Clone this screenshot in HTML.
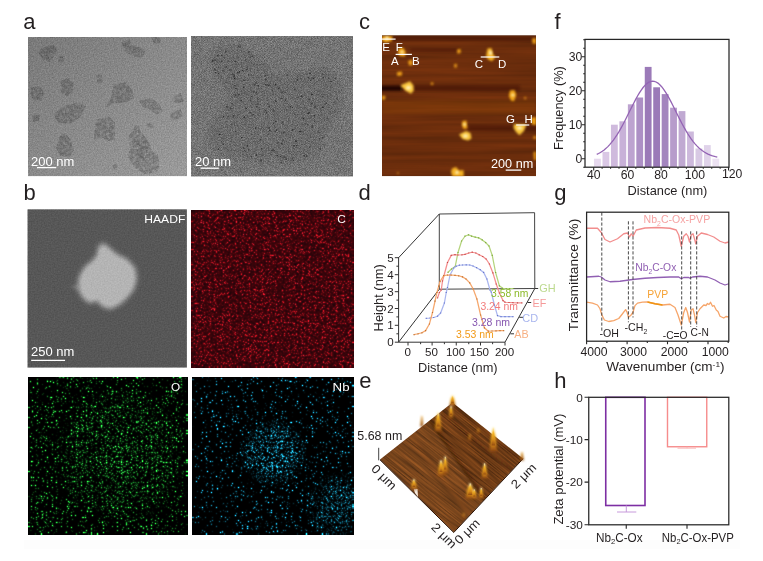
<!DOCTYPE html>
<html><head><meta charset="utf-8"><title>figure</title><style>html,body{margin:0;padding:0;background:#fff;overflow:hidden}svg{display:block}</style></head><body>
<svg width="763" height="561" viewBox="0 0 763 561" font-family="Liberation Sans, sans-serif">
<defs>
<filter id="nzA" x="0" y="0" width="100%" height="100%" color-interpolation-filters="sRGB">
<feTurbulence type="fractalNoise" baseFrequency="0.75" numOctaves="2" seed="4" result="t"/>
<feColorMatrix in="t" type="matrix" values="1 0 0 0 0 1 0 0 0 0 1 0 0 0 0 0 0 0 0 1" result="g"/>
<feComposite in="SourceGraphic" in2="g" operator="arithmetic" k1="0" k2="1" k3="0.2" k4="-0.10"/>
</filter>
<filter id="nzB" x="0" y="0" width="100%" height="100%" color-interpolation-filters="sRGB">
<feTurbulence type="fractalNoise" baseFrequency="1.3" numOctaves="1" seed="11" result="t"/>
<feColorMatrix in="t" type="matrix" values="1 0 0 0 0 1 0 0 0 0 1 0 0 0 0 0 0 0 0 1" result="g"/>
<feComposite in="SourceGraphic" in2="g" operator="arithmetic" k1="0" k2="1" k3="0.42" k4="-0.21"/>
</filter>
<filter id="nzH" x="0" y="0" width="100%" height="100%" color-interpolation-filters="sRGB">
<feTurbulence type="fractalNoise" baseFrequency="0.7" numOctaves="1" seed="2" result="t"/>
<feColorMatrix in="t" type="matrix" values="1 0 0 0 0 1 0 0 0 0 1 0 0 0 0 0 0 0 0 1" result="g"/>
<feComposite in="SourceGraphic" in2="g" operator="arithmetic" k1="0" k2="1" k3="0.12" k4="-0.06"/>
</filter>
<filter id="mapC" x="0" y="0" width="100%" height="100%" color-interpolation-filters="sRGB">
<feTurbulence type="fractalNoise" baseFrequency="0.85" numOctaves="2" seed="21" result="t"/><feColorMatrix in="t" type="matrix" values="7 0 0 0 -4.200  0.840 0 0 0 -0.504  1.400 0 0 0 -0.840  0 0 0 0 1" result="d0"/><feConvolveMatrix in="d0" order="3" kernelMatrix="1 3 1 3 12 3 1 3 1" preserveAlpha="true" result="d"/><feColorMatrix in="t" type="matrix" values="1.0 0 0 0 -0.280  0 0 0 0 0.015  0 0 0 0 0.04  0 0 0 0 1" result="b0"/><feConvolveMatrix in="b0" order="3" kernelMatrix="1 2 1 2 4 2 1 2 1" preserveAlpha="true" result="b"/><feComposite in="d" in2="b" operator="arithmetic" k1="0" k2="0.9" k3="1" k4="0"/>
</filter>
<filter id="mapO" x="0" y="0" width="100%" height="100%" color-interpolation-filters="sRGB">
<feTurbulence type="fractalNoise" baseFrequency="0.8" numOctaves="2" seed="33"/><feColorMatrix type="matrix" values="7 0 0 0 -4.620  7 0 0 0 -4.620  7 0 0 0 -4.620  0 0 0 0 1"/><feConvolveMatrix order="3" kernelMatrix="1 3 1 3 12 3 1 3 1" preserveAlpha="true"/><feColorMatrix type="matrix" values="0.360 0 0 0 0  0 2.000 0 0 0  0 0 0.600 0 0  0 0 0 0 1"/>
</filter>
<filter id="mapO2" x="0" y="0" width="100%" height="100%" color-interpolation-filters="sRGB">
<feTurbulence type="fractalNoise" baseFrequency="0.8" numOctaves="2" seed="35"/><feColorMatrix type="matrix" values="6 0 0 0 -3.720  6 0 0 0 -3.720  6 0 0 0 -3.720  0 0 0 0 1"/><feConvolveMatrix order="3" kernelMatrix="1 3 1 3 12 3 1 3 1" preserveAlpha="true"/><feColorMatrix type="matrix" values="0.342 0 0 0 0  0 1.900 0 0 0  0 0 0.570 0 0  0 0 0 0 1"/>
</filter>
<filter id="mapN" x="0" y="0" width="100%" height="100%" color-interpolation-filters="sRGB">
<feTurbulence type="fractalNoise" baseFrequency="0.8" numOctaves="2" seed="44"/><feColorMatrix type="matrix" values="8 0 0 0 -5.520  8 0 0 0 -5.520  8 0 0 0 -5.520  0 0 0 0 1"/><feConvolveMatrix order="3" kernelMatrix="1 3 1 3 12 3 1 3 1" preserveAlpha="true"/><feColorMatrix type="matrix" values="0.264 0 0 0 0  0 1.760 0 0 0  0 0 2.200 0 0  0 0 0 0 1"/>
</filter>
<filter id="mapN2" x="0" y="0" width="100%" height="100%" color-interpolation-filters="sRGB">
<feTurbulence type="fractalNoise" baseFrequency="0.8" numOctaves="2" seed="47"/><feColorMatrix type="matrix" values="6 0 0 0 -3.480  6 0 0 0 -3.480  6 0 0 0 -3.480  0 0 0 0 1"/><feConvolveMatrix order="3" kernelMatrix="1 3 1 3 12 3 1 3 1" preserveAlpha="true"/><feColorMatrix type="matrix" values="0.204 0 0 0 0  0 1.360 0 0 0  0 0 1.700 0 0  0 0 0 0 1"/>
</filter>
<filter id="afm" x="0" y="0" width="100%" height="100%" color-interpolation-filters="sRGB">
<feTurbulence type="fractalNoise" baseFrequency="0.006 0.16" numOctaves="3" seed="5" result="t"/>
<feColorMatrix in="t" type="matrix" values="1 0 0 0 0 1 0 0 0 0 1 0 0 0 0 0 0 0 0 1" result="g"/>
<feComposite in="SourceGraphic" in2="g" operator="arithmetic" k1="0.4" k2="0.8" k3="0" k4="0"/>
</filter>
<filter id="afm3" x="-20%" y="-20%" width="140%" height="140%" color-interpolation-filters="sRGB">
<feTurbulence type="fractalNoise" baseFrequency="0.02 0.7" numOctaves="2" seed="9" result="t"/>
<feColorMatrix in="t" type="matrix" values="1 0 0 0 0 1 0 0 0 0 1 0 0 0 0 0 0 0 0 1" result="g"/>
<feComposite in="SourceGraphic" in2="g" operator="arithmetic" k1="1.5" k2="0.25" k3="0" k4="0"/>
</filter>
<filter id="mot" x="0" y="0" width="100%" height="100%" color-interpolation-filters="sRGB"><feTurbulence type="fractalNoise" baseFrequency="0.3" numOctaves="2" seed="8" result="t"/><feColorMatrix in="t" type="matrix" values="0 0 0 0 0  0 0 0 0 0  0 0 0 0 0  2.2 0 0 0 -0.4" result="a"/><feComposite in="SourceGraphic" in2="a" operator="in"/></filter>
<filter id="b04"><feGaussianBlur stdDeviation="0.4"/></filter>
<filter id="b05"><feGaussianBlur stdDeviation="0.5"/></filter>
<filter id="b08"><feGaussianBlur stdDeviation="0.8"/></filter>
<filter id="b15"><feGaussianBlur stdDeviation="1.5"/></filter>
<filter id="b2" x="-30%" y="-30%" width="160%" height="160%"><feGaussianBlur stdDeviation="2"/></filter>
<filter id="b25" x="-30%" y="-30%" width="160%" height="160%"><feGaussianBlur stdDeviation="2.6"/></filter>
<filter id="b3" x="-30%" y="-30%" width="160%" height="160%"><feGaussianBlur stdDeviation="3"/></filter>
<filter id="b6" x="-30%" y="-30%" width="160%" height="160%"><feGaussianBlur stdDeviation="6"/></filter>
<linearGradient id="gA" x1="0" y1="0" x2="1" y2="1"><stop offset="0" stop-color="#797979"/><stop offset="1" stop-color="#9b9b9b"/></linearGradient>
<radialGradient id="mNb1" cx="273.5" cy="453" r="34" gradientUnits="userSpaceOnUse"><stop offset="0" stop-color="#fff"/><stop offset="0.6" stop-color="#fff" stop-opacity="0.9"/><stop offset="1" stop-color="#fff" stop-opacity="0"/></radialGradient>
<radialGradient id="mNb2" cx="340" cy="507" r="36" gradientUnits="userSpaceOnUse"><stop offset="0" stop-color="#fff" stop-opacity="0.75"/><stop offset="0.5" stop-color="#fff" stop-opacity="0.55"/><stop offset="1" stop-color="#fff" stop-opacity="0"/></radialGradient>
<radialGradient id="mO" cx="120" cy="455" r="70" gradientUnits="userSpaceOnUse"><stop offset="0" stop-color="#fff" stop-opacity="0.9"/><stop offset="0.5" stop-color="#fff" stop-opacity="0.6"/><stop offset="1" stop-color="#fff" stop-opacity="0"/></radialGradient>
<mask id="mkNb" maskUnits="userSpaceOnUse" x="192" y="377" width="162" height="158"><rect x="192" y="377" width="162" height="158" fill="url(#mNb1)"/><rect x="192" y="377" width="162" height="158" fill="url(#mNb2)"/></mask>
<mask id="mkO" maskUnits="userSpaceOnUse" x="28" y="377" width="160" height="158"><rect x="28" y="377" width="160" height="158" fill="url(#mO)"/></mask>
<linearGradient id="spk" x1="0" y1="0" x2="0" y2="1"><stop offset="0" stop-color="#fff6c8"/><stop offset="0.3" stop-color="#f5b523"/><stop offset="0.7" stop-color="#d08418"/><stop offset="1" stop-color="#8a4510"/></linearGradient>
<linearGradient id="spk2" x1="0" y1="0" x2="0" y2="1"><stop offset="0" stop-color="#e9a12a"/><stop offset="1" stop-color="#8f470f"/></linearGradient>
<clipPath id="cpC"><rect x="382" y="35.25" width="154" height="141"/></clipPath>
<clipPath id="cpE"><polygon points="380,459.5 452.5,402.5 523,458.5 453.75,532.25"/></clipPath>
<clipPath id="cpA1"><rect x="28" y="37" width="159" height="139.2"/></clipPath>
<clipPath id="cpA2"><rect x="191" y="36" width="162" height="140.5"/></clipPath>
</defs>
<rect width="763" height="561" fill="#fff"/>
<rect x="24" y="540" width="716" height="9" fill="#fdfdfd"/>

<text x="23.3" y="29.2" font-size="22" fill="#231f20" text-anchor="start">a</text>
<text x="23.6" y="200.2" font-size="22" fill="#231f20" text-anchor="start">b</text>
<text x="358.9" y="28.7" font-size="22" fill="#231f20" text-anchor="start">c</text>
<text x="358.6" y="200.2" font-size="22" fill="#231f20" text-anchor="start">d</text>
<text x="359.2" y="388.2" font-size="22" fill="#231f20" text-anchor="start">e</text>
<text x="554.4" y="28.8" font-size="22" fill="#231f20" text-anchor="start">f</text>
<text x="554.3" y="199.6" font-size="22" fill="#231f20" text-anchor="start">g</text>
<text x="554.2" y="387.8" font-size="22" fill="#231f20" text-anchor="start">h</text>
<g clip-path="url(#cpA1)">
<g filter="url(#nzA)"><rect x="28" y="37" width="159" height="139.2" fill="url(#gA)"/>
<g fill="#000" fill-opacity="0.2" filter="url(#mot)">
<polygon points="37.38,51.40 46.75,46.05 53.43,44.71 57.44,50.06 53.43,56.75 49.42,62.09 42.73,59.42"/>
<polygon points="57.44,56.75 62.79,55.41 64.13,63.43 58.78,62.09"/>
<polygon points="121.63,42.04 129.65,39.36 132.33,46.05 140.35,47.38 145.70,51.40 141.69,58.08 135.00,56.75 126.98,52.73 122.97,48.72"/>
<polygon points="151.05,35.88 160.41,35.88 160.41,43.37 153.73,43.37"/>
<polygon points="96.22,75.47 101.57,74.13 102.91,82.15 97.56,83.49"/>
<polygon points="60.12,80.82 68.14,78.14 73.49,83.49 73.49,91.51 66.80,96.86 61.45,92.85"/>
<polygon points="30.70,87.50 40.06,86.16 44.07,92.85 41.40,100.87 33.37,99.54 30.16,94.19"/>
<polygon points="113.61,84.83 125.64,82.15 132.33,90.18 133.67,98.20 125.64,102.21 114.95,103.55 105.58,107.56 110.93,98.20"/>
<polygon points="139.02,100.87 151.05,98.20 159.07,103.55 163.09,111.57 156.40,114.25 148.38,108.90 141.69,106.22"/>
<polygon points="173.78,96.86 180.47,92.85 184.48,100.87 177.80,103.55 174.59,102.21"/>
<polygon points="171.11,112.91 180.47,108.90 183.15,115.58 176.46,119.60 169.77,119.60"/>
<polygon points="54.77,112.91 64.13,106.22 77.50,102.21 85.53,106.22 80.18,116.92 70.82,123.61 60.12,123.61 54.77,118.26"/>
<polygon points="32.04,115.58 40.06,114.25 38.72,120.93 33.37,122.27"/>
<polygon points="96.22,119.60 109.60,116.92 114.95,122.27 114.95,139.65 108.26,140.99 101.57,136.98 93.55,139.65 94.89,128.96"/>
<polygon points="60.12,135.64 65.47,132.97 70.82,139.65 73.49,150.35 69.48,157.04 60.12,155.70 56.11,147.68"/>
<polygon points="112.27,165.06 116.28,163.73 117.62,167.74 113.61,169.07"/>
<polygon points="147.04,123.61 152.39,123.61 153.19,127.62 147.84,127.62"/>
<polygon points="134.90,125.75 139.25,125.10 139.90,130.75 145.50,137.00 149.25,143.25 151.75,150.75 158.00,154.50 159.25,167.00 156.75,172.00 145.50,174.50 135.50,168.25 128.00,157.00 129.90,148.25 129.25,134.50 133.00,130.75"/>
<polygon points="136.75,143.25 145.50,139.50 149.25,144.50 148.00,154.50 143.00,160.75 138.00,157.00 136.10,148.25" fill-opacity="0.1"/>
</g></g></g>
<text x="31.0" y="165.6" font-size="12" fill="#fff" text-anchor="start" textLength="43.3" lengthAdjust="spacingAndGlyphs">200 nm</text>
<line x1="37" y1="167.6" x2="56.3" y2="167.6" stroke="#fff" stroke-width="1.3"/>
<g clip-path="url(#cpA2)"><g filter="url(#nzB)"><rect x="191" y="36" width="162" height="140.5" fill="#747474"/>
<polygon filter="url(#b3)" fill="#000" fill-opacity="0.075" points="209.07,62.09 214.42,48.72 238.49,44.71 265.24,59.42 275.93,75.47 297.33,70.12 324.07,67.44 342.80,80.82 341.46,110.24 326.75,131.63 318.73,155.70 291.98,163.73 251.86,161.05 219.77,155.70 207.73,142.33 214.42,118.26 230.47,99.54 217.09,80.82"/>
<path d="M245.2 59.9h1.4M278.1 88.3h1.4M260.8 149.1h1.4M214.2 69.5h1.4M284.5 92.4h1.4M328.1 78.2h1.4M217.4 55.5h1.4M242.8 147.7h1.4M223.0 116.8h1.4M294.0 89.2h1.4M300.5 96.4h1.4M243.7 117.3h1.4M265.2 79.6h1.4M318.1 132.3h1.4M232.8 115.8h1.4M276.4 155.5h1.4M308.1 78.0h1.4M259.8 139.9h1.4M313.5 115.6h1.4M330.7 81.4h1.4M302.8 118.5h1.4M284.9 100.2h1.4M268.5 127.7h1.4M322.4 77.6h1.4M254.8 128.3h1.4M221.0 55.5h1.4M215.0 72.7h1.4M255.6 155.0h1.4M280.2 156.6h1.4M238.2 94.8h1.4M250.6 156.7h1.4M222.3 70.6h1.4M231.2 104.0h1.4M286.3 74.7h1.4M252.2 114.8h1.4M274.9 121.5h1.4M255.8 92.7h1.4M227.4 61.4h1.4M234.1 85.9h1.4M251.4 56.2h1.4M267.2 103.9h1.4M248.1 74.9h1.4M235.5 88.4h1.4M220.9 141.9h1.4M277.6 142.8h1.4M246.1 69.4h1.4M321.8 137.7h1.4M230.1 108.3h1.4M235.2 131.4h1.4M229.2 69.9h1.4M225.5 67.0h1.4M291.7 158.8h1.4M325.3 103.3h1.4M296.2 145.6h1.4M311.3 103.1h1.4M222.7 144.2h1.4M246.5 145.7h1.4M214.7 60.0h1.4M217.7 149.1h1.4M249.3 112.4h1.4M262.2 155.1h1.4M323.1 67.9h1.4M234.0 78.7h1.4M232.3 117.4h1.4M235.2 95.3h1.4M249.8 100.5h1.4M285.4 159.4h1.4M260.2 161.1h1.4M272.8 110.2h1.4M263.2 64.2h1.4M307.4 113.5h1.4M245.5 108.4h1.4M281.1 143.5h1.4M233.5 76.6h1.4M314.7 107.0h1.4M282.1 140.3h1.4M336.4 98.5h1.4M289.9 106.7h1.4M274.4 131.4h1.4M265.1 110.4h1.4M303.4 155.7h1.4M218.9 134.5h1.4M256.7 104.3h1.4M274.9 84.8h1.4M225.3 82.0h1.4M280.9 98.1h1.4M291.7 107.6h1.4M236.9 57.1h1.4M260.4 160.3h1.4M321.9 74.1h1.4M283.4 132.5h1.4M301.7 96.1h1.4M293.3 145.8h1.4M265.3 84.8h1.4M280.7 162.3h1.4M236.5 57.1h1.4M212.0 61.3h1.4M243.4 80.3h1.4M312.7 78.3h1.4M308.6 112.7h1.4M321.9 97.0h1.4M271.7 150.2h1.4M255.9 106.9h1.4M248.1 149.9h1.4M304.5 123.9h1.4M257.7 85.9h1.4M234.6 61.5h1.4M238.7 72.0h1.4M240.4 100.6h1.4M243.0 87.1h1.4M268.6 106.4h1.4M226.2 106.6h1.4M242.2 70.7h1.4M285.8 109.9h1.4M311.3 126.8h1.4M306.0 156.0h1.4M255.4 83.0h1.4M307.2 124.9h1.4M308.7 147.2h1.4M273.2 150.2h1.4M319.7 149.1h1.4M285.5 157.9h1.4M300.8 131.5h1.4M281.6 122.9h1.4M292.1 129.8h1.4M318.6 138.8h1.4M273.0 110.6h1.4M309.2 73.3h1.4M271.6 90.5h1.4M269.2 130.2h1.4M313.9 121.4h1.4M217.9 73.5h1.4M310.2 80.2h1.4M299.2 131.4h1.4M299.7 78.4h1.4M275.1 101.3h1.4M264.7 75.5h1.4M227.7 116.8h1.4M322.1 107.2h1.4M264.9 79.9h1.4M244.0 150.9h1.4M334.7 78.3h1.4M252.7 91.9h1.4M250.9 96.5h1.4M237.6 46.4h1.4M233.6 75.1h1.4M292.8 160.6h1.4M308.5 99.5h1.4M311.7 125.1h1.4M239.4 46.5h1.4M268.2 85.4h1.4M241.2 137.6h1.4M296.7 79.7h1.4M281.4 92.1h1.4M220.9 61.3h1.4M224.8 52.0h1.4M248.0 52.0h1.4M232.1 74.1h1.4M283.3 157.1h1.4M311.2 94.5h1.4M259.2 109.2h1.4M253.4 84.6h1.4M273.0 123.1h1.4M237.0 72.8h1.4M257.0 98.9h1.4M333.8 102.5h1.4M211.9 60.4h1.4M276.0 130.0h1.4M295.3 141.0h1.4M265.9 112.8h1.4" stroke="#000" stroke-opacity="0.45" stroke-width="1.4" fill="none" filter="url(#b04)"/>
</g></g>
<text x="195.0" y="165.7" font-size="12" fill="#fff" text-anchor="start" textLength="36" lengthAdjust="spacingAndGlyphs">20 nm</text>
<line x1="200.6" y1="168.2" x2="218.8" y2="168.2" stroke="#fff" stroke-width="1.3"/>
<g filter="url(#nzH)"><rect x="27.6" y="209.4" width="159.2" height="158.1" fill="#575757"/>
<polygon filter="url(#b25)" fill="#b6b6b6" points="103.78,242.99 110.12,248.30 116.36,253.81 127.49,259.32 135.29,267.95 136.95,279.08 133.73,290.00 125.93,299.46 118.02,305.81 110.12,309.14 102.22,306.85 96.70,300.71 89.63,303.62 82.56,297.90 77.78,288.44 78.61,277.42 84.12,267.22 92.75,260.15 97.54,253.81 98.06,246.32"/>
<polygon filter="url(#b15)" fill="#b4b4b4" fill-opacity="0.9" points="104.27,248.22 109.64,252.71 114.92,257.38 124.34,262.04 130.94,269.34 132.34,278.76 129.62,288.00 123.02,296.01 116.33,301.38 109.64,304.19 102.95,302.26 98.29,297.06 92.30,299.53 86.32,294.69 82.27,286.68 82.98,277.35 87.64,268.73 94.94,262.74 98.99,257.38 99.43,251.04"/>
<polygon filter="url(#b15)" fill="#999" fill-opacity="0.4" points="70,287 80,283 80,291"/>
</g>
<text x="144.3" y="223.3" font-size="11.5" fill="#fff" text-anchor="start" textLength="41" lengthAdjust="spacingAndGlyphs">HAADF</text>
<text x="31.0" y="356.3" font-size="12" fill="#fff" text-anchor="start" textLength="43.3" lengthAdjust="spacingAndGlyphs">250 nm</text>
<line x1="31.2" y1="360.3" x2="65" y2="360.3" stroke="#fff" stroke-width="1.3"/>
<rect x="191.2" y="210" width="162" height="157.2" fill="#000" filter="url(#mapC)"/>
<text x="337.2" y="223.1" font-size="11.8" fill="#fff" text-anchor="start">C</text>
<rect x="28.7" y="377" width="158.8" height="157.4" fill="#000" filter="url(#mapO)"/>
<g mask="url(#mkO)" style="mix-blend-mode:screen"><rect x="28.7" y="377" width="158.8" height="157.4" fill="#000" filter="url(#mapO2)"/></g>
<text x="171" y="390.8" font-size="11.8" fill="#fff" text-anchor="start">O</text>
<rect x="192.7" y="377" width="160.6" height="157.8" fill="#000" filter="url(#mapN)"/>
<g mask="url(#mkNb)" style="mix-blend-mode:screen"><rect x="192.7" y="377" width="160.6" height="157.8" fill="#000" filter="url(#mapN2)"/></g>
<text x="332.6" y="390.7" font-size="11.8" fill="#fff" text-anchor="start" textLength="17" lengthAdjust="spacingAndGlyphs">Nb</text>
<g clip-path="url(#cpC)">
<rect x="382" y="35.25" width="154" height="141" fill="#6b2d0c" filter="url(#afm)"/>
<g filter="url(#b15)">
<rect x="380" y="85.5" width="22" height="5.5" fill="#140600" fill-opacity="0.9"/>
<rect x="400" y="85" width="120" height="6" fill="#2a0e00" fill-opacity="0.35"/>
<rect x="410" y="48" width="50" height="4" fill="#2a0e00" fill-opacity="0.3"/>
<rect x="468" y="125" width="70" height="6" fill="#2a0e00" fill-opacity="0.4"/>
<rect x="382" y="36" width="154" height="5" fill="#2a0e00" fill-opacity="0.35"/>
<rect x="382" y="100" width="154" height="14" fill="#b05a18" fill-opacity="0.18"/>
</g>
<g filter="url(#b08)">
<polygon points="382.00,36.00 392.50,36.00 392.00,41.00 386.00,42.50 382.00,41.00" fill="#f2a81a"/>
<polygon points="399.00,48.50 403.00,47.50 405.80,52.00 405.00,56.50 399.50,56.00 397.80,52.00" fill="#f0a418"/>
<polygon points="408.00,61.00 412.00,59.50 412.80,65.00 409.00,65.50" fill="#e89a18"/>
<polygon points="457.00,49.50 460.50,48.80 460.80,53.00 457.30,53.80" fill="#e89a18"/>
<polygon points="454.00,64.00 457.00,63.80 457.00,67.50 454.20,67.80" fill="#d98a16"/>
<polygon points="397.00,72.00 402.00,71.50 402.00,75.50 397.20,76.00" fill="#e89a18"/>
<polygon points="430.80,82.30 433.30,82.30 433.30,85.00 430.80,85.00" fill="#d98a16"/>
<polygon points="400.30,85.30 410.00,81.30 413.50,85.50 413.80,90.50 411.00,93.80 405.50,90.80" fill="#f9c63e"/>
<polygon points="382.00,95.50 385.50,96.00 385.00,99.50 382.00,100.00" fill="#e89a18"/>
<polygon points="487.50,48.50 491.50,48.00 493.00,54.00 495.50,57.00 492.00,61.30 488.00,59.50 486.00,56.00" fill="#f4b024"/>
<polygon points="510.00,90.50 514.50,90.00 516.30,95.00 514.00,101.30 511.00,100.50 508.80,96.00" fill="#f0a418"/>
<polygon points="524.00,96.80 526.30,96.80 526.30,99.30 524.00,99.30" fill="#c97a14"/>
<polygon points="532.00,38.50 536.00,38.00 536.00,44.00 532.50,43.50" fill="#e89a18"/>
<polygon points="531.50,118.00 536.00,117.00 536.00,125.00 532.00,124.50" fill="#f0a418"/>
<polygon points="514.00,124.00 526.50,124.50 524.00,131.00 519.50,135.20 516.00,132.00 513.50,128.00" fill="#f7c23a"/>
<polygon points="462.50,121.00 466.50,120.50 467.30,128.50 463.50,129.00 461.80,125.00" fill="#f0a418"/>
<polygon points="459.00,134.50 466.00,131.00 470.50,133.00 471.50,138.50 468.00,140.50 462.50,139.00" fill="#f7c23a"/>
<polygon points="533.50,152.00 536.00,151.50 536.00,160.00 534.00,160.00" fill="#e89a18"/>
<polygon points="452.00,168.50 456.00,167.00 459.00,170.50 463.50,170.00 463.80,176.50 452.50,176.50 451.00,172.00" fill="#f4b024"/>
<polygon points="533.50,136.00 536.00,136.00 536.00,139.00 533.50,139.00" fill="#d98a16"/>
<polygon points="397.00,172.30 398.80,172.30 398.80,174.00 397.00,174.00" fill="#c97a14"/>
</g>
<g filter="url(#b08)" fill="#fff4c0" fill-opacity="0.9"><ellipse cx="408.5" cy="87.8" rx="2.6" ry="2"/><ellipse cx="490.5" cy="53" rx="1.6" ry="2.4"/><ellipse cx="519.5" cy="128" rx="2.6" ry="1.8"/><ellipse cx="465.5" cy="136" rx="2.6" ry="1.8"/><circle cx="402" cy="52" r="1.6"/><circle cx="457" cy="172.5" r="1.8"/><circle cx="464.6" cy="124.5" r="1.4"/><circle cx="512.8" cy="95" r="1.5"/><circle cx="387" cy="38" r="1.8"/></g>
</g>
<text x="382.3" y="51.3" font-size="11.5" fill="#fff" text-anchor="start">E</text>
<text x="395.8" y="51.3" font-size="11.5" fill="#fff" text-anchor="start">F</text>
<text x="391" y="65.1" font-size="11.5" fill="#fff" text-anchor="start">A</text>
<text x="412" y="65.1" font-size="11.5" fill="#fff" text-anchor="start">B</text>
<text x="474.7" y="67.6" font-size="11.5" fill="#fff" text-anchor="start">C</text>
<text x="498" y="67.6" font-size="11.5" fill="#fff" text-anchor="start">D</text>
<text x="505.9" y="122.6" font-size="11.5" fill="#fff" text-anchor="start">G</text>
<text x="524.4" y="122.6" font-size="11.5" fill="#fff" text-anchor="start">H</text>
<line x1="382" y1="39.1" x2="395.6" y2="39.1" stroke="#fff" stroke-width="1.2"/>
<line x1="395.6" y1="54.4" x2="411.9" y2="54.4" stroke="#fff" stroke-width="1.2"/>
<line x1="480.7" y1="57" x2="499.3" y2="57" stroke="#fff" stroke-width="1.2"/>
<line x1="516.2" y1="125" x2="529.3" y2="125" stroke="#fff" stroke-width="1.2"/>
<text x="491" y="168.1" font-size="12" fill="#fff" text-anchor="start" textLength="42.3" lengthAdjust="spacingAndGlyphs">200 nm</text>
<line x1="505.7" y1="170.1" x2="521.3" y2="170.1" stroke="#fff" stroke-width="1.3"/>
<g stroke="#333" stroke-width="1.0" fill="none">
<polygon points="439.3,214 534.6,212.7 534.8,288.5 439.3,289.2" stroke="#444"/>
<path d="M398.6 257.7L439.3 214M398.6 342.2L439.3 289.2M505 342.2L534.8 288.5M398.6 257.2V342.2H505"/>
<path d="M534.8 288.5H538.2M527.5 302.5H531.2M519.3 317.3H523M510.3 333.8H514"/>
<path d="M398.6 257.7h-3.8M398.6 266.2h-2.2M398.6 274.7h-3.8M398.6 283.2h-2.2M398.6 291.7h-3.8M398.6 300.1h-2.2M398.6 308.5h-3.8M398.6 316.9h-2.2M398.6 325.3h-3.8M398.6 333.8h-2.2M398.6 342.2h-3.8M408 342.2v3.3M432.1 342.2v3.3M456.25 342.2v3.3M480.5 342.2v3.3M505 342.2v3.3M420.6 342.2v2M444.4 342.2v2M468.75 342.2v2M492.6 342.2v2"/>
</g>
<polyline points="448.00,272.30 451.50,269.00 455.20,266.50 458.00,252.50 461.60,241.00 465.00,236.25 468.50,234.75 471.60,236.10 475.20,237.10 478.60,237.80 482.20,239.90 485.70,242.60 489.00,246.00 492.25,255.40 495.60,272.50 499.40,285.80 502.60,288.30 506.25,288.60 509.75,288.60 513.40,288.50" fill="none" stroke="#b4d47c" stroke-width="1.25" stroke-linejoin="round"/>
<path d="M447.4 272.3h1.2M450.9 269.0h1.2M454.6 266.5h1.2M457.4 252.5h1.2M461.0 241.0h1.2M464.4 236.2h1.2M467.9 234.8h1.2M471.0 236.1h1.2M474.6 237.1h1.2M478.0 237.8h1.2M481.6 239.9h1.2M485.1 242.6h1.2M488.4 246.0h1.2M491.6 255.4h1.2M495.0 272.5h1.2M498.8 285.8h1.2M502.0 288.3h1.2M505.6 288.6h1.2M509.1 288.6h1.2M512.8 288.5h1.2" stroke="#6f9f28" stroke-width="1.2" stroke-opacity="0.8" fill="none"/>
<polyline points="437.50,298.00 439.40,292.50 441.25,290.00 442.50,281.00 447.50,262.50 451.25,255.40 455.00,254.60 458.00,255.00 461.90,254.75 465.00,254.40 468.75,253.00 472.20,252.25 475.80,253.00 479.20,254.75 482.70,256.50 486.10,259.00 489.40,264.00 492.90,272.90 496.25,284.00 499.40,293.00 503.00,300.60 505.00,302.25 509.00,302.50 513.00,302.70 517.50,302.80 521.90,302.90" fill="none" stroke="#f48e8e" stroke-width="1.25" stroke-linejoin="round"/>
<path d="M436.9 298.0h1.2M438.8 292.5h1.2M440.6 290.0h1.2M441.9 281.0h1.2M446.9 262.5h1.2M450.6 255.4h1.2M454.4 254.6h1.2M457.4 255.0h1.2M461.3 254.8h1.2M464.4 254.4h1.2M468.1 253.0h1.2M471.6 252.2h1.2M475.2 253.0h1.2M478.6 254.8h1.2M482.1 256.5h1.2M485.5 259.0h1.2M488.8 264.0h1.2M492.3 272.9h1.2M495.6 284.0h1.2M498.8 293.0h1.2M502.4 300.6h1.2M504.4 302.2h1.2M508.4 302.5h1.2M512.4 302.7h1.2M516.9 302.8h1.2M521.3 302.9h1.2" stroke="#b83434" stroke-width="1.2" stroke-opacity="0.8" fill="none"/>
<polyline points="426.25,318.40 430.00,318.00 433.75,317.50 437.50,316.25 440.60,313.00 444.40,303.00 446.25,292.50 447.50,287.50 450.00,275.00 453.75,268.00 456.25,266.25 459.40,265.25 462.50,265.00 466.25,264.75 469.75,265.00 473.00,266.00 476.60,267.70 480.20,269.70 483.60,272.40 486.90,279.00 490.00,290.00 491.25,292.00 494.40,305.00 497.50,315.60 501.00,316.60 505.00,316.60 509.00,316.60 513.00,316.60" fill="none" stroke="#aab6ef" stroke-width="1.25" stroke-linejoin="round"/>
<path d="M425.6 318.4h1.2M429.4 318.0h1.2M433.1 317.5h1.2M436.9 316.2h1.2M440.0 313.0h1.2M443.8 303.0h1.2M445.6 292.5h1.2M446.9 287.5h1.2M449.4 275.0h1.2M453.1 268.0h1.2M455.6 266.2h1.2M458.8 265.2h1.2M461.9 265.0h1.2M465.6 264.8h1.2M469.1 265.0h1.2M472.4 266.0h1.2M476.0 267.7h1.2M479.6 269.7h1.2M483.0 272.4h1.2M486.3 279.0h1.2M489.4 290.0h1.2M490.6 292.0h1.2M493.8 305.0h1.2M496.9 315.6h1.2M500.4 316.6h1.2M504.4 316.6h1.2M508.4 316.6h1.2M512.4 316.6h1.2" stroke="#5666c4" stroke-width="1.2" stroke-opacity="0.8" fill="none"/>
<polyline points="414.00,334.60 418.00,333.75 421.90,332.75 425.60,330.60 429.40,324.00 432.50,312.50 435.00,301.25 436.90,292.50 438.75,286.25 440.00,281.50 443.75,275.60 447.50,275.00 451.25,275.00 455.00,275.40 458.75,275.75 462.50,276.90 466.00,279.00 469.75,282.90 473.20,289.00 476.90,299.00 480.60,315.00 484.40,327.80 488.30,331.25 492.00,331.00 496.00,330.80 500.00,330.70 503.75,330.60" fill="none" stroke="#f6a86e" stroke-width="1.25" stroke-linejoin="round"/>
<path d="M413.4 334.6h1.2M417.4 333.8h1.2M421.3 332.8h1.2M425.0 330.6h1.2M428.8 324.0h1.2M431.9 312.5h1.2M434.4 301.2h1.2M436.3 292.5h1.2M438.1 286.2h1.2M439.4 281.5h1.2M443.1 275.6h1.2M446.9 275.0h1.2M450.6 275.0h1.2M454.4 275.4h1.2M458.1 275.8h1.2M461.9 276.9h1.2M465.4 279.0h1.2M469.1 282.9h1.2M472.6 289.0h1.2M476.3 299.0h1.2M480.0 315.0h1.2M483.8 327.8h1.2M487.7 331.2h1.2M491.4 331.0h1.2M495.4 330.8h1.2M499.4 330.7h1.2M503.1 330.6h1.2" stroke="#b0601c" stroke-width="1.2" stroke-opacity="0.8" fill="none"/>
<text x="539.2" y="292.1" font-size="11" fill="#bcd98e" text-anchor="start" textLength="16.4" lengthAdjust="spacingAndGlyphs">GH</text>
<text x="532.6" y="306.8" font-size="11" fill="#f59a9a" text-anchor="start" textLength="13.8" lengthAdjust="spacingAndGlyphs">EF</text>
<text x="522.3" y="321.6" font-size="11" fill="#a9b6ee" text-anchor="start" textLength="15.8" lengthAdjust="spacingAndGlyphs">CD</text>
<text x="514.2" y="338.4" font-size="11" fill="#f7b083" text-anchor="start" textLength="14.4" lengthAdjust="spacingAndGlyphs">AB</text>
<text x="491" y="297.2" font-size="10.4" fill="#8cba2a" text-anchor="start" textLength="37.4" lengthAdjust="spacingAndGlyphs">3.58 nm</text>
<text x="480.4" y="309.8" font-size="10.4" fill="#f27c7c" text-anchor="start" textLength="37.6" lengthAdjust="spacingAndGlyphs">3.24 nm</text>
<text x="472" y="326.3" font-size="10.4" fill="#8656b0" text-anchor="start" textLength="38" lengthAdjust="spacingAndGlyphs">3.28 nm</text>
<text x="456" y="337.8" font-size="10.4" fill="#f29a18" text-anchor="start" textLength="37.8" lengthAdjust="spacingAndGlyphs">3.53 nm</text>
<text x="393.6" y="261.8" font-size="11.6" fill="#231f20" text-anchor="end">5</text>
<text x="393.6" y="278.8" font-size="11.6" fill="#231f20" text-anchor="end">4</text>
<text x="393.6" y="295.8" font-size="11.6" fill="#231f20" text-anchor="end">3</text>
<text x="393.6" y="312.6" font-size="11.6" fill="#231f20" text-anchor="end">2</text>
<text x="393.6" y="329.40000000000003" font-size="11.6" fill="#231f20" text-anchor="end">1</text>
<text x="393.6" y="346.3" font-size="11.6" fill="#231f20" text-anchor="end">0</text>
<text x="407.8" y="356.4" font-size="11.6" fill="#231f20" text-anchor="middle">0</text>
<text x="431.4" y="356.4" font-size="11.6" fill="#231f20" text-anchor="middle">50</text>
<text x="455.6" y="356.4" font-size="11.6" fill="#231f20" text-anchor="middle">100</text>
<text x="479.4" y="356.4" font-size="11.6" fill="#231f20" text-anchor="middle">150</text>
<text x="504.6" y="356.4" font-size="11.6" fill="#231f20" text-anchor="middle">200</text>
<text x="418" y="371.6" font-size="12.8" fill="#231f20" text-anchor="start" textLength="79.6" lengthAdjust="spacingAndGlyphs">Distance (nm)</text>
<text x="382.6" y="331.4" font-size="12.8" fill="#231f20" text-anchor="start" textLength="67.2" lengthAdjust="spacingAndGlyphs" transform="rotate(-90 382.6 331.4)">Height (nm)</text>
<g clip-path="url(#cpE)">
<g transform="rotate(38.6 452 460)"><rect x="340" y="360" width="230" height="200" fill="#703f19" filter="url(#afm3)"/></g>
<polygon points="380,459.5 452.5,402.5 523,458.5 453.75,532.25" fill="#6a300a" fill-opacity="0.15"/>
<g filter="url(#b15)">
<polygon points="380,459.5 430,420 486,503 453.75,532.25" fill="#b87a3a" fill-opacity="0.13"/>
<path d="M429.5 421L487 504" stroke="#331402" stroke-opacity="0.6" stroke-width="3"/>
<path d="M440 412L512 470" stroke="#3c1803" stroke-opacity="0.3" stroke-width="2"/>
<path d="M452 404L520 457" stroke="#3c1803" stroke-opacity="0.3" stroke-width="2"/>
<path d="M410 436L470 515" stroke="#b0601c" stroke-opacity="0.25" stroke-width="4"/>
</g>
</g>
<path d="M380 459.8L453.75 532.5L523 458.8" fill="none" stroke="#2a1204" stroke-width="1"/>
<polygon points="413.5,488.5 417.5,489 418,497 415,493" fill="#f5e9dc"/>
<g filter="url(#b08)">
<path d="M449.4 406L450.6 399.2L452.0 395H453.0L454.4 399.2L455.6 406Z" fill="url(#spk)"/>
<path d="M448.8 418L449.6 410.6L450.5 406H451.5L452.4 410.6L453.2 418Z" fill="url(#spk)"/>
<path d="M420.3 426.5L420.9 420.0L421.3 416H422.3L422.7 420.0L423.3 426.5Z" fill="url(#spk2)"/>
<path d="M434.7 431.5L436.1 419.4L437.7 412H438.7L440.3 419.4L441.7 431.5Z" fill="url(#spk)"/>
<path d="M489.6 451.5L491.1 436.3L492.8 427H493.8L495.6 436.3L497.1 451.5Z" fill="url(#spk)"/>
<path d="M476.7 433L477.3 430.3L477.8 428.6H478.8L479.3 430.3L479.9 433Z" fill="url(#spk2)"/>
<path d="M468.1 440.5L468.7 436.5L469.2 434H470.2L470.7 436.5L471.3 440.5Z" fill="url(#spk2)"/>
<path d="M437.6 476L439.0 466.1L440.5 460H441.5L443.0 466.1L444.4 476Z" fill="url(#spk)"/>
<path d="M442.7 474L443.7 463.0L444.8 456.2H445.8L446.9 463.0L447.9 474Z" fill="url(#spk)"/>
<path d="M481.5 478.5L482.7 468.9L484.1 463H485.1L486.5 468.9L487.7 478.5Z" fill="url(#spk)"/>
<path d="M410.8 489.5L412.0 483.0L413.4 479H414.4L415.8 483.0L417.0 489.5Z" fill="url(#spk)"/>
<path d="M465.5 499L467.4 489.1L469.7 483H470.7L473.0 489.1L474.9 499Z" fill="url(#spk)"/>
<path d="M471.8 499L472.8 492.8L473.8 489H474.8L475.8 492.8L476.8 499Z" fill="url(#spk)"/>
<path d="M478.7 498.8L479.7 491.9L480.7 487.6H481.7L482.7 491.9L483.7 498.8Z" fill="url(#spk)"/>
<path d="M520.1 460.5L520.9 455.2L521.5 452H522.5L523.1 455.2L523.9 460.5Z" fill="url(#spk2)"/>
<path d="M462.3 517.5L462.9 514.7L463.3 513H464.3L464.7 514.7L465.3 517.5Z" fill="url(#spk2)"/>
</g>
<path d="M451.1 403.2L452.1 395.5H452.9L453.9 403.2Z" fill="url(#spk)" fill-opacity="0.85"/>
<path d="M450.0 415.0L450.6 406.5H451.4L452.0 415.0Z" fill="url(#spk)" fill-opacity="0.85"/>
<path d="M436.6 426.6L437.8 412.5H438.59999999999997L439.8 426.6Z" fill="url(#spk)" fill-opacity="0.85"/>
<path d="M491.6 445.4L492.90000000000003 427.5H493.7L495.0 445.4Z" fill="url(#spk)" fill-opacity="0.85"/>
<path d="M439.5 472.0L440.6 460.5H441.4L442.5 472.0Z" fill="url(#spk)" fill-opacity="0.85"/>
<path d="M444.1 469.6L444.90000000000003 456.7H445.7L446.5 469.6Z" fill="url(#spk)" fill-opacity="0.85"/>
<path d="M483.2 474.6L484.20000000000005 463.5H485.0L486.0 474.6Z" fill="url(#spk)" fill-opacity="0.85"/>
<path d="M412.5 486.9L413.5 479.5H414.29999999999995L415.3 486.9Z" fill="url(#spk)" fill-opacity="0.85"/>
<path d="M468.1 495.0L469.8 483.5H470.59999999999997L472.3 495.0Z" fill="url(#spk)" fill-opacity="0.85"/>
<path d="M473.2 496.5L473.90000000000003 489.5H474.7L475.4 496.5Z" fill="url(#spk)" fill-opacity="0.85"/>
<path d="M480.1 496.0L480.8 488.1H481.59999999999997L482.3 496.0Z" fill="url(#spk)" fill-opacity="0.85"/>
<line x1="378.7" y1="447.8" x2="378.7" y2="460.3" stroke="#444" stroke-width="1"/>
<text x="357.3" y="440.1" font-size="12.4" fill="#231f20" text-anchor="start" textLength="45" lengthAdjust="spacingAndGlyphs">5.68 nm</text>
<text x="370.5" y="469.5" font-size="12.4" fill="#231f20" text-anchor="start" textLength="30" lengthAdjust="spacingAndGlyphs" transform="rotate(45 370.5 469.5)">0 μm</text>
<text x="430.5" y="528" font-size="12.4" fill="#231f20" text-anchor="start" textLength="30" lengthAdjust="spacingAndGlyphs" transform="rotate(45 430.5 528)">2 μm</text>
<text x="459.5" y="545" font-size="12.4" fill="#231f20" text-anchor="start" textLength="30" lengthAdjust="spacingAndGlyphs" transform="rotate(-45 459.5 545)">0 μm</text>
<text x="516" y="489.5" font-size="12.4" fill="#231f20" text-anchor="start" textLength="30" lengthAdjust="spacingAndGlyphs" transform="rotate(-45 516 489.5)">2 μm</text>
<rect x="594.05" y="158.70" width="6.8" height="8.50" fill="#e6d9ee"/>
<rect x="602.50" y="151.90" width="6.8" height="15.30" fill="#dac8e5"/>
<rect x="610.96" y="124.70" width="6.8" height="42.50" fill="#cfbadd"/>
<rect x="619.41" y="121.30" width="6.8" height="45.90" fill="#c8b1d8"/>
<rect x="627.87" y="104.30" width="6.8" height="62.90" fill="#bda3d0"/>
<rect x="636.32" y="97.50" width="6.8" height="69.70" fill="#ad90c5"/>
<rect x="644.77" y="66.90" width="6.8" height="100.30" fill="#9b7ab8"/>
<rect x="653.23" y="87.30" width="6.8" height="79.90" fill="#9b7ab8"/>
<rect x="661.68" y="94.10" width="6.8" height="73.10" fill="#a385be"/>
<rect x="670.14" y="107.70" width="6.8" height="59.50" fill="#b79ccb"/>
<rect x="678.59" y="111.10" width="6.8" height="56.10" fill="#c0a9d2"/>
<rect x="687.04" y="131.50" width="6.8" height="35.70" fill="#cdb9dc"/>
<rect x="695.50" y="148.50" width="6.8" height="18.70" fill="#d8c9e4"/>
<rect x="703.95" y="145.10" width="6.8" height="22.10" fill="#e0d3ea"/>
<rect x="712.41" y="158.70" width="6.8" height="8.50" fill="#ece2f2"/>
<polyline points="596.73,154.41 598.59,153.52 600.44,152.48 602.30,151.29 604.15,149.92 606.01,148.36 607.86,146.60 609.72,144.64 611.57,142.46 613.43,140.06 615.28,137.45 617.14,134.61 618.99,131.58 620.84,128.35 622.70,124.96 624.55,121.43 626.41,117.78 628.26,114.06 630.12,110.32 631.97,106.59 633.83,102.93 635.68,99.39 637.54,96.03 639.39,92.90 641.25,90.04 643.10,87.52 644.95,85.37 646.81,83.63 648.66,82.34 650.52,81.52 652.37,81.19 654.23,81.34 656.08,81.99 657.94,83.11 659.79,84.69 661.65,86.69 663.50,89.08 665.35,91.82 667.21,94.86 669.06,98.15 670.92,101.63 672.77,105.25 674.63,108.96 676.48,112.70 678.34,116.44 680.19,120.11 682.05,123.69 683.90,127.14 685.76,130.43 687.61,133.53 689.46,136.44 691.32,139.14 693.17,141.61 695.03,143.87 696.88,145.91 698.74,147.75 700.59,149.37 702.45,150.81 704.30,152.07 706.16,153.16 708.01,154.10 709.87,154.91 711.72,155.59 713.57,156.17 715.43,156.65 717.28,157.05" fill="none" stroke="#9464b4" stroke-width="1.3"/>
<rect x="585.0" y="39.4" width="144.0" height="127.79999999999998" fill="none" stroke="#262626" stroke-width="1.25"/>
<path d="M585.0 167.20h-1.8M585.0 158.70h-3.2M585.0 150.20h-1.8M585.0 141.70h-1.8M585.0 133.20h-1.8M585.0 124.70h-3.2M585.0 116.20h-1.8M585.0 107.70h-1.8M585.0 99.20h-1.8M585.0 90.70h-3.2M585.0 82.20h-1.8M585.0 73.70h-1.8M585.0 65.20h-1.8M585.0 56.70h-3.2M585.0 48.20h-1.8M585.0 39.70h-1.8M593.70 167.2v3.2M627.42 167.2v3.2M661.14 167.2v3.2M694.86 167.2v3.2M728.58 167.2v3.2M602.13 167.2v1.6M610.56 167.2v1.6M618.99 167.2v1.6M635.85 167.2v1.6M644.28 167.2v1.6M652.71 167.2v1.6M669.57 167.2v1.6M678.00 167.2v1.6M686.43 167.2v1.6M703.29 167.2v1.6M711.72 167.2v1.6M720.15 167.2v1.6" stroke="#262626" stroke-width="1.1" fill="none"/>
<text x="582.2" y="60.999999999999986" font-size="12.2" fill="#231f20" text-anchor="end">30</text>
<text x="582.2" y="94.99999999999999" font-size="12.2" fill="#231f20" text-anchor="end">20</text>
<text x="582.2" y="129.0" font-size="12.2" fill="#231f20" text-anchor="end">10</text>
<text x="582.2" y="163.0" font-size="12.2" fill="#231f20" text-anchor="end">0</text>
<text x="593.7" y="179.3" font-size="12.2" fill="#231f20" text-anchor="middle">40</text>
<text x="627.4200000000001" y="179.3" font-size="12.2" fill="#231f20" text-anchor="middle">60</text>
<text x="661.1400000000001" y="179.3" font-size="12.2" fill="#231f20" text-anchor="middle">80</text>
<text x="694.86" y="179.3" font-size="12.2" fill="#231f20" text-anchor="middle">100</text>
<text x="732.2" y="178.2" font-size="12.2" fill="#231f20" text-anchor="middle">120</text>
<text x="627.6" y="194.7" font-size="12.8" fill="#231f20" text-anchor="start" textLength="79.8" lengthAdjust="spacingAndGlyphs">Distance (nm)</text>
<text x="563.4" y="150" font-size="12.8" fill="#231f20" text-anchor="start" textLength="83.8" lengthAdjust="spacingAndGlyphs" transform="rotate(-90 563.4 150)">Frequency (%)</text>
<polyline points="586.60,228.25 597.50,228.25 601.25,232.50 605.00,239.50 610.00,242.00 617.50,238.75 623.75,233.75 627.50,233.00 629.50,237.00 631.25,233.75 633.00,236.25 636.25,230.00 645.00,228.00 657.50,227.50 670.00,228.25 676.25,230.00 678.75,235.00 681.25,246.25 683.75,236.25 686.25,233.75 688.00,236.25 689.50,242.00 691.25,235.00 693.00,233.75 694.50,238.75 695.75,243.75 697.50,236.25 701.25,233.00 707.50,234.50 713.75,237.00 720.00,241.25 725.00,243.00 728.80,242.00" fill="none" stroke="#f28d8d" stroke-width="1.3" stroke-linejoin="round"/>
<polyline points="586.60,277.00 598.75,276.25 601.25,277.00 605.00,280.00 610.00,281.75 620.00,281.25 632.50,279.50 645.00,278.25 657.50,277.50 670.00,277.00 678.75,277.00 681.25,278.75 683.75,277.50 688.75,277.50 690.00,278.25 692.50,277.00 700.00,276.25 707.50,277.00 715.00,280.00 720.00,283.00 725.00,285.00 728.80,283.75" fill="none" stroke="#9160b3" stroke-width="1.3" stroke-linejoin="round"/>
<polyline points="586.60,302.10 592.50,303.10 597.50,305.00 600.00,308.75 601.90,315.00 604.40,320.00 608.75,321.50 613.75,320.60 618.75,318.50 622.50,313.75 625.60,309.60 626.90,311.90 628.50,317.25 630.60,315.60 632.90,312.50 635.00,305.60 637.50,303.10 642.50,302.10 647.50,302.00 655.00,303.75 662.50,305.00 670.00,304.25 675.00,307.50 678.00,315.00 681.25,325.00 683.75,312.50 685.75,307.50 687.50,312.50 689.50,322.00 691.25,310.00 693.00,308.75 694.50,315.00 695.75,322.50 697.50,312.50 700.00,308.75 703.75,305.00 706.00,305.50 707.50,303.50 709.00,304.50 710.50,302.30 712.50,306.25 714.00,305.50 716.25,310.00 718.00,311.50 720.00,316.25 723.75,318.00 726.00,316.50 728.80,317.00" fill="none" stroke="#f6a56a" stroke-width="1.3" stroke-linejoin="round"/>
<polyline points="647.50,302.00 655.00,303.75 662.50,305.00" fill="none" stroke="#f09410" stroke-width="1.4"/>
<g stroke="#333" stroke-width="0.9" stroke-dasharray="3.2 1.8" fill="none">
<path d="M601.8 212.5V331M628.4 221.3V322.3M633 221.3V317.5M681.7 231.3V330M690.7 231.3V327M696.7 231.3V327"/>
</g>
<rect x="586.6" y="212.2" width="142.2" height="129.0" fill="none" stroke="#262626" stroke-width="1.25"/>
<path d="M586.6 341.2v3M627.1 341.2v3M667.5 341.2v3M708 341.2v3M606.9 341.2v1.8M647.3 341.2v1.8M687.8 341.2v1.8M728.2 341.2v1.8" stroke="#262626" stroke-width="1.1" fill="none"/>
<text x="594.1" y="356.4" font-size="12.2" fill="#231f20" text-anchor="middle">4000</text>
<text x="633.6" y="356.4" font-size="12.2" fill="#231f20" text-anchor="middle">3000</text>
<text x="674.3" y="356.4" font-size="12.2" fill="#231f20" text-anchor="middle">2000</text>
<text x="715.2" y="356.4" font-size="12.2" fill="#231f20" text-anchor="middle">1000</text>
<text x="643.6" y="223.3" font-size="11.2" fill="#f6a3a3" text-anchor="start" textLength="66.6" lengthAdjust="spacingAndGlyphs">Nb<tspan font-size="65%" dy="2.6">2</tspan><tspan dy="-2.6">C-Ox-PVP</tspan></text>
<text x="635.3" y="271.3" font-size="11.2" fill="#9160b3" text-anchor="start" textLength="41" lengthAdjust="spacingAndGlyphs">Nb<tspan font-size="65%" dy="2.6">2</tspan><tspan dy="-2.6">C-Ox</tspan></text>
<text x="647.3" y="298.3" font-size="11.2" fill="#f6a234" text-anchor="start" textLength="20.8" lengthAdjust="spacingAndGlyphs">PVP</text>
<text x="599.6" y="337.3" font-size="10.6" fill="#231f20" text-anchor="start">-OH</text>
<text x="624.6" y="331.1" font-size="10.6" fill="#231f20" text-anchor="start">-CH<tspan font-size="65%" dy="2.6">2</tspan><tspan dy="-2.6"></tspan></text>
<text x="662.8" y="338.8" font-size="10.6" fill="#231f20" text-anchor="start" textLength="24.8" lengthAdjust="spacingAndGlyphs">-C=O</text>
<text x="690.6" y="335.6" font-size="10.6" fill="#231f20" text-anchor="start" textLength="18.2" lengthAdjust="spacingAndGlyphs">C-N</text>
<text x="606.2" y="371.3" font-size="12.8" fill="#231f20" text-anchor="start" textLength="118.4" lengthAdjust="spacingAndGlyphs">Wavenumber (cm<tspan font-size="62%" dy="-4.6">-1</tspan><tspan dy="4.6">)</tspan></text>
<text x="578.2" y="331.3" font-size="13.7" fill="#231f20" text-anchor="start" textLength="112.6" lengthAdjust="spacingAndGlyphs" transform="rotate(-90 578.2 331.3)">Transmittance (%)</text>
<rect x="605.75" y="397.3" width="39.25" height="108.20" fill="none" stroke="#7d2ea3" stroke-width="1.6"/>
<path d="M626.3 505.5V512M617 512H636.3" stroke="#c79adb" stroke-width="1" fill="none"/>
<rect x="667.5" y="397.3" width="39.25" height="49.45" fill="none" stroke="#f68c8c" stroke-width="1.4"/>
<path d="M687 446.75V448.2M677.5 448.2H696" stroke="#f8b4b4" stroke-width="0.9" fill="none"/>
<rect x="588.75" y="397.3" width="140.05" height="127.50" fill="none" stroke="#262626" stroke-width="1.25"/>
<path d="M588.75 397.3h-4.2M588.75 439.6h-4.2M588.75 482.1h-4.2M588.75 524.8h-4.2M626.25 524.8v4M687 524.8v4" stroke="#262626" stroke-width="1.1" fill="none"/>
<text x="582.8" y="401.5" font-size="11.8" fill="#231f20" text-anchor="end">0</text>
<text x="582.8" y="443.8" font-size="11.8" fill="#231f20" text-anchor="end">-10</text>
<text x="582.8" y="486.3" font-size="11.8" fill="#231f20" text-anchor="end">-20</text>
<text x="582.8" y="529.0" font-size="11.8" fill="#231f20" text-anchor="end">-30</text>
<text x="596" y="541.6" font-size="12" fill="#231f20" text-anchor="start" textLength="46.6" lengthAdjust="spacingAndGlyphs">Nb<tspan font-size="65%" dy="2.6">2</tspan><tspan dy="-2.6">C-Ox</tspan></text>
<text x="661.8" y="541.6" font-size="12" fill="#231f20" text-anchor="start" textLength="72" lengthAdjust="spacingAndGlyphs">Nb<tspan font-size="65%" dy="2.6">2</tspan><tspan dy="-2.6">C-Ox-PVP</tspan></text>
<text x="563.4" y="524.6" font-size="12.9" fill="#231f20" text-anchor="start" textLength="111" lengthAdjust="spacingAndGlyphs" transform="rotate(-90 563.4 524.6)">Zeta potential (mV)</text>
</svg>
</body></html>
